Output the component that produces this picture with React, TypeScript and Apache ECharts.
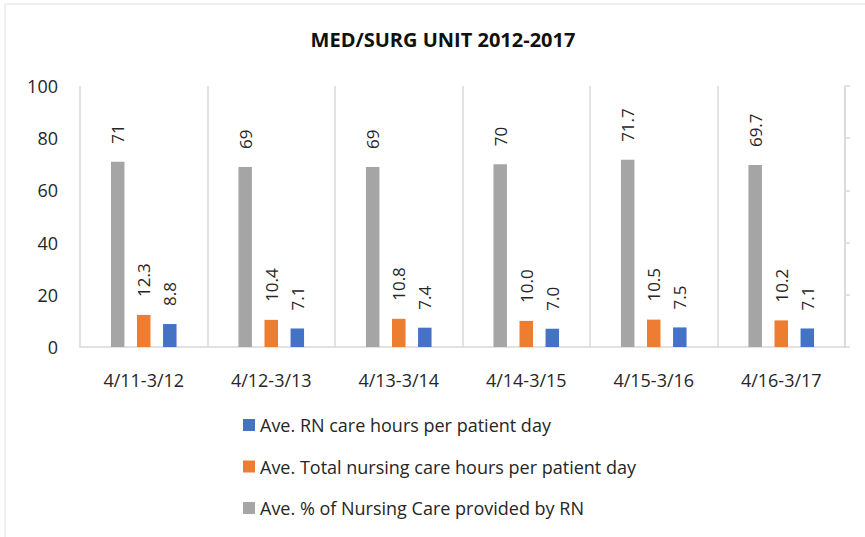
import React, { useEffect, useRef } from "react";
import * as echarts from "echarts";

const categories = ["4/11-3/12", "4/12-3/13", "4/13-3/14", "4/14-3/15", "4/15-3/16", "4/16-3/17"];
const pctRN = [71, 69, 69, 70, 71.7, 69.7];
const totalHours = [12.3, 10.4, 10.8, 10.0, 10.5, 10.2];
const rnHours = [8.8, 7.1, 7.4, 7.0, 7.5, 7.1];
const seriesNames = [
  "Ave. RN care hours per patient day",
  "Ave. Total nursing care hours per patient day",
  "Ave. % of Nursing Care provided by RN",
];
const yTicks = { min: 0, max: 100, interval: 20 };

const FONT = "'Open Sans', 'Liberation Sans', sans-serif";
const TEXT = "#262626";
const LINE = "#d9d9d9";

export default function App() {
  const ref = useRef<HTMLDivElement>(null);
  useEffect(() => {
    if (!ref.current) return;
    const chart = echarts.init(ref.current, null, { renderer: "svg" });
    const label = (fmt: (v: number) => string) => ({
      show: true,
      position: "top",
      rotate: 90,
      align: "left",
      verticalAlign: "middle",
      distance: 18,
      fontSize: 17,
      fontFamily: FONT,
      color: TEXT,
      formatter: (p: any) => fmt(p.value),
    });
    chart.setOption({
      animation: false,
      backgroundColor: "#ffffff",
      textStyle: { fontFamily: FONT },
      title: {
        text: "MED/SURG UNIT 2012-2017",
        left: 438,
        textAlign: "center",
        top: 24,
        textStyle: { fontSize: 20, fontWeight: "bold", color: "#111111", fontFamily: FONT },
      },
      graphic: [
        {
          type: "rect",
          shape: { x: 5, y: 4, width: 880, height: 560 },
          style: { fill: "none", stroke: "#e0e0e0", lineWidth: 1 },
          silent: true,
        },
      ],
      legend: {
        orient: "vertical",
        left: 243,
        top: 416,
        padding: 0,
        itemWidth: 12,
        itemHeight: 12,
        itemGap: 23.5,
        icon: "rect",
        data: seriesNames,
        textStyle: { fontSize: 18, color: TEXT, fontFamily: FONT },
      },
      grid: { left: 80, right: 20, top: 86, bottom: 190 },
      xAxis: {
        type: "category",
        data: categories,
        boundaryGap: true,
        axisLine: { show: true, lineStyle: { color: LINE, width: 1.5 } },
        axisTick: { show: false },
        splitLine: { show: true, lineStyle: { color: LINE, width: 1.5 } },
        axisLabel: { fontSize: 18, color: TEXT, margin: 24, fontFamily: FONT },
      },
      yAxis: [
        {
          type: "value",
          ...yTicks,
          axisLine: { show: false },
          axisTick: { show: false },
          splitLine: { show: false },
          axisLabel: { fontSize: 18, color: TEXT, margin: 22, fontFamily: FONT },
        },
        {
          type: "value",
          position: "right",
          ...yTicks,
          axisLine: { show: true, lineStyle: { color: LINE, width: 1.5 } },
          axisTick: { show: true, inside: false, length: 5, lineStyle: { color: LINE, width: 1.5 } },
          splitLine: { show: false },
          axisLabel: { show: false },
        },
      ],
      series: [
        {
          name: seriesNames[2],
          type: "bar",
          data: pctRN,
          barWidth: 13.5,
          barGap: "93%",
          itemStyle: { color: "#A5A5A5" },
          label: label((v) => String(v)),
        },
        {
          name: seriesNames[1],
          type: "bar",
          data: totalHours,
          barWidth: 13.5,
          barGap: "93%",
          itemStyle: { color: "#ED7D31" },
          label: label((v) => v.toFixed(1)),
        },
        {
          name: seriesNames[0],
          type: "bar",
          data: rnHours,
          barWidth: 13.5,
          barGap: "93%",
          itemStyle: { color: "#4472C4" },
          label: label((v) => v.toFixed(1)),
        },
      ],
    });
    return () => chart.dispose();
  }, []);
  return (
    <div
      ref={ref}
      style={{ position: "fixed", left: 0, top: 0, width: 865, height: 537 }}
    />
  );
}
